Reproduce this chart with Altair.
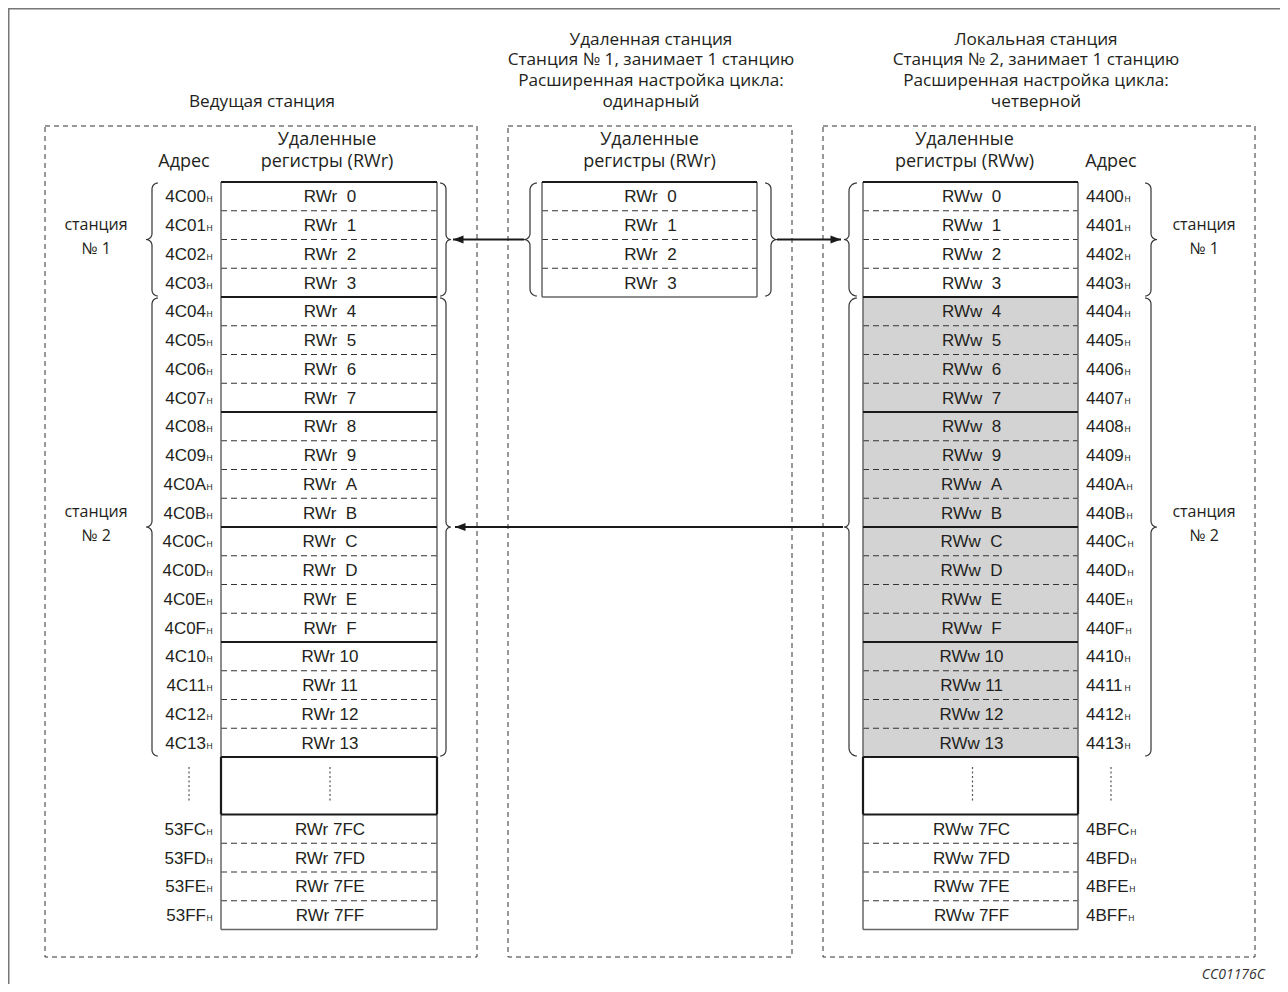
import altair as alt
import numpy as np
import pandas as pd

# ---------------- content ----------------
TITLE_MASTER = ["Ведущая станция"]
TITLE_REMOTE = ["Удаленная станция", "Станция № 1, занимает 1 станцию",
                "Расширенная настройка цикла:", "одинарный"]
TITLE_LOCAL = ["Локальная станция", "Станция № 2, занимает 1 станцию",
               "Расширенная настройка цикла:", "четверной"]
HEADER_RWR = ["Удаленные", "регистры (RWr)"]
HEADER_RWW = ["Удаленные", "регистры (RWw)"]
HEADER_ADDR = "Адрес"
STATION_WORD = "станция"
STATION_NUMS = ["№ 1", "№ 2"]
STATION_SPANS = [(0, 4), (4, 20)]          # register rows covered by each station

MASTER_ADDR = ["4C00", "4C01", "4C02", "4C03", "4C04", "4C05", "4C06", "4C07",
               "4C08", "4C09", "4C0A", "4C0B", "4C0C", "4C0D", "4C0E", "4C0F",
               "4C10", "4C11", "4C12", "4C13"]
MASTER_ADDR_END = ["53FC", "53FD", "53FE", "53FF"]
MASTER_REG = ["RWr  0", "RWr  1", "RWr  2", "RWr  3", "RWr  4", "RWr  5", "RWr  6",
              "RWr  7", "RWr  8", "RWr  9", "RWr  A", "RWr  B", "RWr  C", "RWr  D",
              "RWr  E", "RWr  F", "RWr 10", "RWr 11", "RWr 12", "RWr 13"]
MASTER_REG_END = ["RWr 7FC", "RWr 7FD", "RWr 7FE", "RWr 7FF"]
REMOTE_REG = ["RWr  0", "RWr  1", "RWr  2", "RWr  3"]
LOCAL_REG = ["RWw  0", "RWw  1", "RWw  2", "RWw  3", "RWw  4", "RWw  5", "RWw  6",
             "RWw  7", "RWw  8", "RWw  9", "RWw  A", "RWw  B", "RWw  C", "RWw  D",
             "RWw  E", "RWw  F", "RWw 10", "RWw 11", "RWw 12", "RWw 13"]
LOCAL_REG_END = ["RWw 7FC", "RWw 7FD", "RWw 7FE", "RWw 7FF"]
LOCAL_ADDR = ["4400", "4401", "4402", "4403", "4404", "4405", "4406", "4407",
              "4408", "4409", "440A", "440B", "440C", "440D", "440E", "440F",
              "4410", "4411", "4412", "4413"]
LOCAL_ADDR_END = ["4BFC", "4BFD", "4BFE", "4BFF"]
LOCAL_SHADED = (4, 20)                     # rows shaded grey in the local station
FOOTER = "CC01176C"

# ---------------- layout ----------------
X0, Y0, PW, PH = 8, 8, 1272, 976
ROW_TOP, ROW_H = 182.0, 28.75
N_HEAD, N_ELL, N_TAIL = len(MASTER_REG), 2, len(MASTER_REG_END)
TAIL0 = N_HEAD + N_ELL
N_ROWS = TAIL0 + N_TAIL
THICK = [0, 4, 8, 12, 16, 20, 22]


def ry(b):
    return ROW_TOP + b * ROW_H


M_L, M_R = 221, 437
R_L, R_R = 542, 757
L_L, L_R = 863, 1078
BOXES = [(45, 126, 477, 957), (508, 126, 792, 957), (823, 126, 1255, 957)]

SANS = "Open Sans"
CELLF = "Liberation Sans"
CELL_FS = 17
SUB_FS = 8.5
TITLE_FS = 17.2
HEAD_FS = 18
INK = "#231f20"
ARIAL_W = {"0": .556, "1": .556, "2": .556, "3": .556, "4": .556, "5": .556,
           "6": .556, "7": .556, "8": .556, "9": .556, "A": .667, "B": .667,
           "C": .722, "D": .722, "E": .667, "F": .611}


def tw(s):
    return sum(ARIAL_W.get(c, .6) for c in s) * CELL_FS


def nb(s):
    return s.replace("  ", " \u00a0")


xs = alt.Scale(domain=[X0, X0 + PW], nice=False, zero=False)
ys = alt.Scale(domain=[Y0, Y0 + PH], nice=False, zero=False, reverse=True)


def X(f="x"):
    return alt.X(f"{f}:Q", scale=xs, axis=None)


def Y(f="y"):
    return alt.Y(f"{f}:Q", scale=ys, axis=None)


layers = []

# outer frame (top and left edges)
frame = pd.DataFrame([dict(x=X0 + 0.75, x2=X0 + 0.75, y=Y0, y2=Y0 + PH),
                      dict(x=X0, x2=X0 + PW, y=Y0 + 0.75, y2=Y0 + 0.75)])
layers.append(alt.Chart(frame).mark_rule(color="#777", strokeWidth=1.5).encode(
    x=X(), x2="x2:Q", y=Y(), y2="y2:Q"))

# shaded rows
shade = pd.DataFrame([dict(x=L_L, x2=L_R, y=ry(LOCAL_SHADED[0]), y2=ry(LOCAL_SHADED[1]))])
layers.append(alt.Chart(shade).mark_rect(color="#d3d3d3").encode(
    x=X(), x2="x2:Q", y=Y(), y2="y2:Q"))

# dashed station boxes
boxes = pd.DataFrame([dict(x=a, y=b, x2=c, y2=d) for a, b, c, d in BOXES])
layers.append(alt.Chart(boxes).mark_rect(fill="white", fillOpacity=0, stroke="#333",
                                         strokeWidth=1, strokeDash=[5, 4]).encode(
    x=X(), x2="x2:Q", y=Y(), y2="y2:Q"))

# row separators
dash_rows, grey_rows, thick_rows = [], [], []
for (l, r) in [(M_L, M_R), (L_L, L_R)]:
    for b in range(N_ROWS + 1):
        d = dict(x=l, x2=r, y=ry(b), y2=ry(b))
        if b in THICK:
            thick_rows.append(d)
        elif b == N_ROWS:
            grey_rows.append(d)
        elif b != N_HEAD + 1:
            dash_rows.append(d)
    grey_rows += [dict(x=l, x2=l, y=ry(0), y2=ry(N_HEAD)), dict(x=r, x2=r, y=ry(0), y2=ry(N_HEAD)),
                  dict(x=l, x2=l, y=ry(TAIL0), y2=ry(N_ROWS)), dict(x=r, x2=r, y=ry(TAIL0), y2=ry(N_ROWS))]
    thick_rows += [dict(x=l, x2=l, y=ry(N_HEAD), y2=ry(TAIL0)), dict(x=r, x2=r, y=ry(N_HEAD), y2=ry(TAIL0))]
nrem = len(REMOTE_REG)
for b in range(nrem + 1):
    d = dict(x=R_L, x2=R_R, y=ry(b), y2=ry(b))
    (thick_rows if b == 0 else grey_rows if b == nrem else dash_rows).append(d)
grey_rows += [dict(x=R_L, x2=R_L, y=ry(0), y2=ry(nrem)), dict(x=R_R, x2=R_R, y=ry(0), y2=ry(nrem))]

layers.append(alt.Chart(pd.DataFrame(dash_rows)).mark_rule(color="#333", strokeWidth=1, strokeDash=[6, 4]).encode(
    x=X(), x2="x2:Q", y=Y(), y2="y2:Q"))
layers.append(alt.Chart(pd.DataFrame(grey_rows)).mark_rule(color="#666", strokeWidth=1.5).encode(
    x=X(), x2="x2:Q", y=Y(), y2="y2:Q"))
layers.append(alt.Chart(pd.DataFrame(thick_rows)).mark_rule(color="#1a1a1a", strokeWidth=2.2).encode(
    x=X(), x2="x2:Q", y=Y(), y2="y2:Q"))

# ellipsis dots
ell = []
for xx in [189, (M_L + M_R) / 2 + 1, (L_L + L_R) / 2 + 2, 1111]:
    ell.append(dict(x=xx, x2=xx, y=ry(N_HEAD) + 10, y2=ry(TAIL0) - 12))
layers.append(alt.Chart(pd.DataFrame(ell)).mark_rule(color="#555", strokeWidth=1.2, strokeDash=[2, 2.5]).encode(
    x=X(), x2="x2:Q", y=Y(), y2="y2:Q"))


# braces
def brace(bid, x_line, curl, y0, y1, r=6, t=5, n=9):
    x_end = x_line + curl * r
    d = -curl
    ym = (y0 + y1) / 2
    th = np.linspace(0, np.pi / 2, n)
    pts = []
    for a in th:
        pts.append((x_end - curl * r * np.sin(a), y0 + r - r * np.cos(a)))
    cx, cy = x_line + d * t, ym - t
    for a in th:
        pts.append((cx - d * t * np.cos(a), cy + t * np.sin(a)))
    cx, cy = x_line + d * t, ym + t
    for a in th:
        pts.append((cx - d * t * np.sin(a), cy - t * np.cos(a)))
    for a in th:
        pts.append((x_end - curl * r * np.cos(a), y1 - r + r * np.sin(a)))
    return [dict(id=bid, k=i, x=p[0], y=p[1]) for i, p in enumerate(pts)]


br = []
for si, (a, b) in enumerate(STATION_SPANS):
    y0, y1 = ry(a) + 1, ry(b) - 1
    br += brace(f"ml{si}", 152, 1, y0, y1, r=6, t=6)
    br += brace(f"mr{si}", 446, -1, y0, y1, r=6, t=5)
    br += brace(f"ll{si}", 849, 1, y0, y1, r=8, t=5)
    br += brace(f"lr{si}", 1151, -1, y0, y1, r=6, t=6)
br += brace("rl", 530, 1, ry(0) + 1, ry(nrem) - 1, r=7, t=6)
br += brace("rr", 771, -1, ry(0) + 1, ry(nrem) - 1, r=6, t=6)
layers.append(alt.Chart(pd.DataFrame(br)).mark_line(color="#333", strokeWidth=1.2).encode(
    x=X(), y=Y(), detail="id:N", order="k:Q"))

# arrows
ym1 = (ry(STATION_SPANS[0][0]) + ry(STATION_SPANS[0][1])) / 2
ym2 = (ry(STATION_SPANS[1][0]) + ry(STATION_SPANS[1][1])) / 2
arrows = pd.DataFrame([dict(x=524, x2=453, y=ym1, y2=ym1),
                       dict(x=777, x2=841, y=ym1, y2=ym1),
                       dict(x=843, x2=455, y=ym2, y2=ym2)])
layers.append(alt.Chart(arrows).mark_rule(color="#1a1a1a", strokeWidth=2).encode(
    x=X(), x2="x2:Q", y=Y(), y2="y2:Q"))
heads_l = pd.DataFrame([dict(x=453, y=ym1), dict(x=455, y=ym2)])
heads_r = pd.DataFrame([dict(x=841, y=ym1)])
layers.append(alt.Chart(heads_l).mark_point(shape="M0,0L2,-0.75L2,0.75Z", filled=True, size=110,
                                            color="#1a1a1a", opacity=1).encode(x=X(), y=Y()))
layers.append(alt.Chart(heads_r).mark_point(shape="M0,0L-2,-0.75L-2,0.75Z", filled=True, size=110,
                                            color="#1a1a1a", opacity=1).encode(x=X(), y=Y()))

# cell texts
cells = []
rows_head = list(range(N_HEAD))
rows_tail = list(range(TAIL0, N_ROWS))
for i, s in zip(rows_head + rows_tail, MASTER_REG + MASTER_REG_END):
    cells.append(dict(x=(M_L + M_R) / 2 + 1, y=ry(i + 0.5) + 6, t=nb(s)))
for i, s in enumerate(REMOTE_REG):
    cells.append(dict(x=(R_L + R_R) / 2 + 1, y=ry(i + 0.5) + 6, t=nb(s)))
for i, s in zip(rows_head + rows_tail, LOCAL_REG + LOCAL_REG_END):
    cells.append(dict(x=(L_L + L_R) / 2 + 1, y=ry(i + 0.5) + 6, t=nb(s)))
layers.append(alt.Chart(pd.DataFrame(cells)).mark_text(font=CELLF, fontSize=CELL_FS, align="center",
                                                       baseline="alphabetic", color=INK).encode(
    x=X(), y=Y(), text="t:N"))

# addresses with subscript H
addr_l, addr_r, subs = [], [], []
for i, s in zip(rows_head + rows_tail, MASTER_ADDR + MASTER_ADDR_END):
    y = ry(i + 0.5) + 6
    addr_r.append(dict(x=206, y=y, t=s))
    subs.append(dict(x=206.5, y=y, t="H"))
for i, s in zip(rows_head + rows_tail, LOCAL_ADDR + LOCAL_ADDR_END):
    y = ry(i + 0.5) + 6
    addr_l.append(dict(x=1086, y=y, t=s))
    subs.append(dict(x=1086 + tw(s) + 0.8, y=y, t="H"))
layers.append(alt.Chart(pd.DataFrame(addr_r)).mark_text(font=CELLF, fontSize=CELL_FS, align="right",
                                                        baseline="alphabetic", color=INK).encode(
    x=X(), y=Y(), text="t:N"))
layers.append(alt.Chart(pd.DataFrame(addr_l)).mark_text(font=CELLF, fontSize=CELL_FS, align="left",
                                                        baseline="alphabetic", color=INK).encode(
    x=X(), y=Y(), text="t:N"))
layers.append(alt.Chart(pd.DataFrame(subs)).mark_text(font=CELLF, fontSize=SUB_FS, align="left",
                                                      baseline="alphabetic", color=INK).encode(
    x=X(), y=Y(), text="t:N"))

# titles
titles = []
TB = [44.5, 65.3, 86.1, 106.9]
for j, s in enumerate(TITLE_REMOTE):
    titles.append(dict(x=651, y=TB[j], t=s))
for j, s in enumerate(TITLE_LOCAL):
    titles.append(dict(x=1036, y=TB[j], t=s))
titles.append(dict(x=262, y=TB[3], t=TITLE_MASTER[0]))
layers.append(alt.Chart(pd.DataFrame(titles)).mark_text(font=SANS, fontSize=TITLE_FS, align="center",
                                                        baseline="alphabetic", color=INK).encode(
    x=X(), y=Y(), text="t:N"))

# column headers
heads = []
HB = [145, 167]
for j, s in enumerate(HEADER_RWR):
    heads.append(dict(x=(M_L + M_R) / 2 - 2, y=HB[j], t=s))
    heads.append(dict(x=(R_L + R_R) / 2, y=HB[j], t=s))
for j, s in enumerate(HEADER_RWW):
    heads.append(dict(x=(L_L + L_R) / 2 - 6, y=HB[j], t=s))
heads.append(dict(x=184, y=HB[1], t=HEADER_ADDR))
heads.append(dict(x=1111, y=HB[1], t=HEADER_ADDR))
layers.append(alt.Chart(pd.DataFrame(heads)).mark_text(font=SANS, fontSize=HEAD_FS, align="center",
                                                       baseline="alphabetic", color=INK).encode(
    x=X(), y=Y(), text="t:N"))

# station labels
st = []
for (a, b), num in zip(STATION_SPANS, STATION_NUMS):
    ym = (ry(a) + ry(b)) / 2
    for xx in [96, 1204]:
        st.append(dict(x=xx, y=ym - 10, t=STATION_WORD))
        st.append(dict(x=xx, y=ym + 14, t=num))
layers.append(alt.Chart(pd.DataFrame(st)).mark_text(font=SANS, fontSize=16, align="center",
                                                    baseline="alphabetic", color=INK).encode(
    x=X(), y=Y(), text="t:N"))

# footer
foot = pd.DataFrame([dict(x=1265, y=979, t=FOOTER)])
layers.append(alt.Chart(foot).mark_text(font=SANS, fontSize=14, fontStyle="italic", align="right",
                                        baseline="alphabetic", color="#333").encode(
    x=X(), y=Y(), text="t:N"))

chart = alt.layer(*layers).properties(
    width=PW, height=PH,
    padding={"left": 0, "top": 0, "right": 0, "bottom": 0},
    autosize=alt.AutoSizeParams(type="none"),
).configure_view(stroke=None)

chart.save("out.html", embed_options={"renderer": "svg", "actions": False})
